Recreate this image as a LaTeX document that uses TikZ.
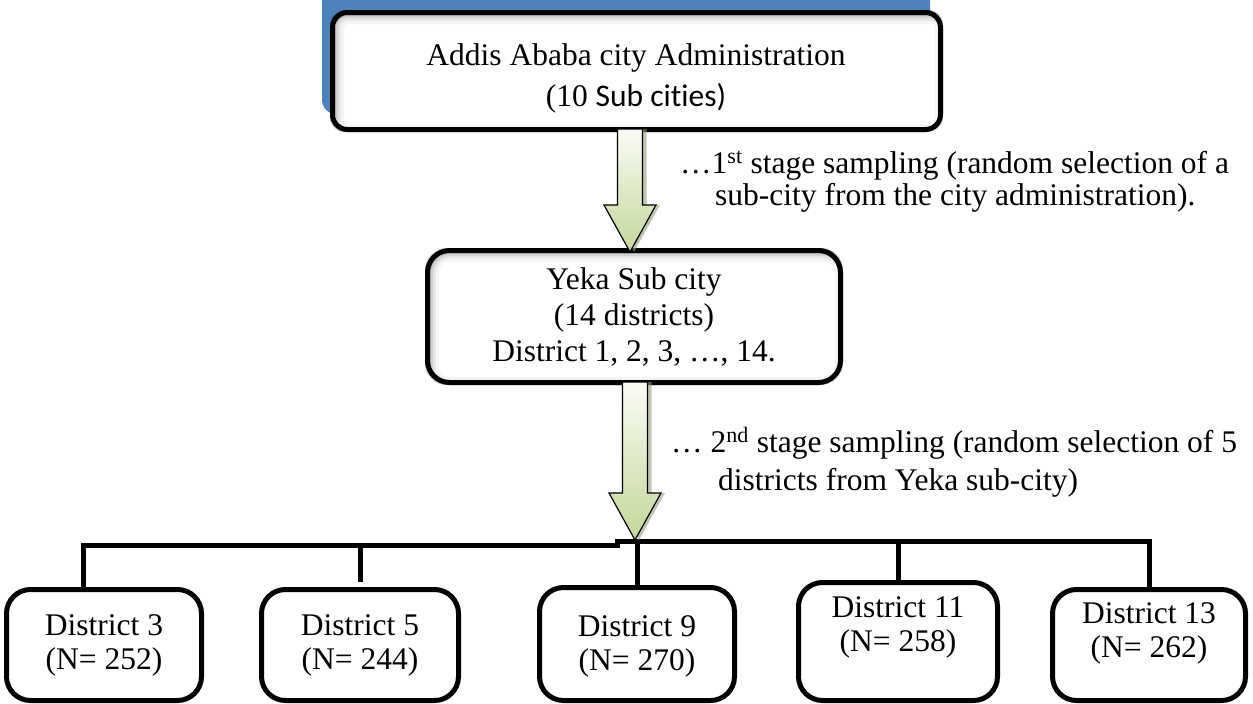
\documentclass[tikz,border=0pt]{standalone}
\usepackage{fontspec}
\setmainfont{Liberation Serif}
\newfontfamily\calibri{Carlito}[Ligatures=NoCommon]
\usetikzlibrary{calc,positioning}

\definecolor{hdrblue}{HTML}{4F81BD}
\definecolor{arrowgreen}{HTML}{C3D69B}
\definecolor{arrowtop}{HTML}{FAFCF5}
\definecolor{arrowshade}{HTML}{9A9E80}

% block arrow between two anchors, x fixed
\newcommand{\arrowoutline}[3]{(#1pt-12.5pt,#2) -- (#1pt+12.5pt,#2) -- (#1pt+12.5pt,#3+47pt) -- (#1pt+26pt,#3+47pt) -- (#1pt,#3) -- (#1pt-26pt,#3+47pt) -- (#1pt-12.5pt,#3+47pt) -- cycle}
\newcommand{\stagearrow}[3]{%
	\path[arrowshadow, xshift=4pt, yshift=-3pt] let \p1=(#2), \p2=(#3) in \arrowoutline{#1}{\y1}{\y2};
	\path[blockarrow] let \p1=(#2), \p2=(#3) in \arrowoutline{#1}{\y1}{\y2};
}
% soft shadow inside a rounded frame
\newcommand{\innershadow}[2]{%
	\begin{scope}
		\clip[rounded corners=#2] (#1.north west) rectangle (#1.south east);
		\foreach \w/\o in {22/0.04,15/0.06,10/0.08,6/0.1}
			\draw[line width=\w pt, black, opacity=\o, rounded corners=#2] ([shift={(3pt,-3pt)}]#1.north west) rectangle ([shift={(3pt,-3pt)}]#1.south east);
	\end{scope}
}

\begin{document}
\begin{tikzpicture}[
		x=1pt, y=-1pt,
		every node/.style={font=\fontsize{31.5}{34}\selectfont},
		frame/.style={draw=black, line width=5pt, fill=white, rounded corners=#1, inner sep=0pt},
		frame/.default=24pt,
		txt/.style={align=center, inner sep=0pt},
		note/.style={anchor=base west, inner sep=0pt},
		bus/.style={line width=5pt},
		blockarrow/.style={draw=black, line width=1.2pt, top color=arrowtop, bottom color=arrowgreen},
		arrowshadow/.style={fill=arrowshade, opacity=.6},
	]
		\useasboundingbox (0,0) rectangle (1253,704);

		% city level
		\node [fill=hdrblue, rounded corners=15pt, minimum width=608pt, minimum height=135pt, inner sep=0pt] (topback) at (626,47) {};
		\node [frame=15pt, minimum width=608pt, minimum height=117pt] (top) at (636.5,71) {};
		\innershadow{top}{15pt}
		\node [txt, font=\fontsize{31.5}{41}\selectfont] (topT) at (636,78) {Addis Ababa city Administration\\(10 {\calibri Sub cities)}};

		% sub city level
		\node [frame=22pt, minimum width=413pt, minimum height=132pt] (yeka) at (634,316.5) {};
		\innershadow{yeka}{22pt}
		\node [txt, font=\fontsize{31.5}{36}\selectfont] (yekaT) at (yeka.center) {Yeka Sub city\\(14 districts)\\District 1, 2, 3, \ldots, 14.};

		% districts
		\foreach \n/\x/\y/\w/\h/\dy/\num in {3/104/645/195/111/0/252, 5/360/645/197/111/0/244, 9/637/644/195/113/-2/270, 11/898/641.5/199/118/14/258, 13/1149/645/193/111/12/262} {
			\node [frame, minimum width=\w pt, minimum height=\h pt] (d\n) at (\x,\y) {};
			\node [txt] (t\n) at ([yshift=\dy pt]d\n.center) {District \n\\(N= \num)};
		}

		% sampling stages
		\stagearrow{630}{[yshift=3pt]top.south}{[yshift=-4pt]yeka.north}
		\node [note] (s1a) at (680,173) {\ldots1\textsuperscript{st} stage sampling (random selection of a};
		\node [note] (s1b) at (715,205) {sub-city from the city administration).};

		\coordinate (busL) at (83,545);
		\coordinate (busM) at (620,545);
		\coordinate (busN) at (615,541);
		\coordinate (busTip) at (635,540);
		\draw [bus] (d3.north -| busL) |- (busM);
		\draw [bus] (busN) -| (d13.north);
		\draw [bus] (d5.north |- busM) -- ([yshift=5pt]d5.north);
		\draw [bus] (d9.north |- busN) -- (d9.north);
		\draw [bus] (d11.north |- busN) -- (d11.north);

		\stagearrow{635}{[yshift=3pt]yeka.south}{busTip}
		\node [note] (s2a) at (671,452) {\ldots{} 2\textsuperscript{nd} stage sampling (random selection of 5};
		\node [note] (s2b) at (718,490) {districts from Yeka sub-city)};
	\end{tikzpicture}
\end{document}
